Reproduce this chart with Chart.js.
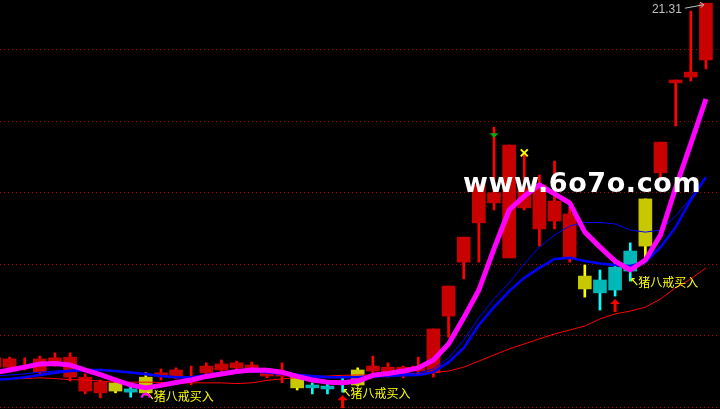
<!DOCTYPE html>
<html>
<head>
<meta charset="utf-8">
<script src="https://cdn.jsdelivr.net/npm/chart.js@4.4.0/dist/chart.umd.min.js"></script>
<style>
    html, body { margin: 0; padding: 0; background: #000; overflow: hidden; }
    #kline { display: block; background: #000; }
</style>
</head>
<body>
<canvas id="kline" width="720" height="409"></canvas>
<script>
// candles, oldest first
var open  = [11.12,11.12,11.10,10.98,11.21,10.84,10.45,10.40,10.45,10.42,10.40,10.87,10.82,10.73,10.96,11.04,11.10,11.10,10.87,10.87,10.54,10.54,10.51,10.65,10.62,11.01,10.90,10.96,11.01,10.96,12.55,14.06,15.16,15.72,14.18,15.58,14.99,15.21,14.15,13.31,13.20,13.28,13.81,14.51,16.56,19.08,19.24,19.72];
var close = [11.38,11.35,11.15,11.35,11.38,11.40,10.84,10.70,10.68,10.51,10.84,10.96,11.04,10.79,11.15,11.21,11.24,11.18,11.01,10.98,10.84,10.62,10.59,10.73,11.04,11.15,11.12,11.12,11.15,12.19,13.39,14.76,16.22,16.00,17.34,16.14,16.22,15.77,15.41,13.67,13.56,13.92,14.37,15.83,17.42,19.16,19.38,21.31];
var high  = [11.43,11.40,11.38,11.43,11.52,11.52,10.93,10.76,10.70,10.59,10.96,11.07,11.10,11.15,11.24,11.32,11.29,11.26,11.07,11.24,10.87,10.68,10.68,10.84,11.10,11.43,11.24,11.15,11.40,12.19,13.39,14.76,16.22,17.84,17.34,17.12,16.50,16.89,15.60,13.98,13.84,14.06,14.60,15.83,17.42,19.16,21.09,21.31];
var low   = [11.07,11.07,11.04,10.93,11.15,10.73,10.37,10.26,10.40,10.28,10.34,10.76,10.79,10.62,10.90,10.98,11.04,10.98,10.82,10.68,10.48,10.37,10.37,10.42,10.59,10.90,10.84,10.82,10.96,10.84,11.96,13.59,14.06,15.52,14.18,15.52,14.51,14.99,14.06,13.08,12.72,13.11,13.53,14.20,16.36,17.87,19.13,19.47];
// indicator colour of each candle: r red, y yellow, c cyan
var kind = ('rrrrrrrr' + 'y' + 'c' + 'y' + 'rrrrrrrrr' + 'y' + 'ccc' + 'y' + 'rrrrrrrrrrrrrr' + 'y' + 'ccc' + 'y' + 'rrrr').split('');

// moving averages
var ma5  = [10.96,11.04,11.12,11.21,11.22,11.18,11.04,10.91,10.76,10.62,10.54,10.61,10.69,10.76,10.86,10.93,11.00,11.04,11.03,10.98,10.86,10.76,10.70,10.68,10.73,10.89,10.94,11.01,11.10,11.32,11.77,12.50,13.28,14.43,15.52,15.91,16.22,15.97,15.72,14.90,14.48,14.09,13.84,14.12,14.82,16.14,17.37,18.63];
var ma10 = [10.87,10.90,10.93,10.98,11.01,11.04,11.05,11.04,11.00,10.96,10.90,10.86,10.83,10.84,10.89,10.94,10.98,11.01,11.00,10.97,10.93,10.89,10.86,10.84,10.86,10.87,10.90,10.93,10.96,11.07,11.38,11.88,12.50,13.03,13.48,14.01,14.48,14.82,15.07,15.17,15.17,15.13,14.96,14.90,14.96,15.35,15.86,16.42];
var ma20 = [10.76,10.79,10.84,10.90,10.96,11.01,11.04,11.04,11.01,10.97,10.93,10.87,10.84,10.84,10.90,10.96,11.00,11.01,10.97,10.93,10.89,10.86,10.84,10.84,10.84,10.86,10.87,10.89,10.90,10.98,11.26,11.66,12.30,12.80,13.25,13.62,13.90,14.15,14.18,14.09,14.02,13.98,13.95,14.06,14.48,15.04,15.80,16.44];
var ma60 = [10.76,10.79,10.80,10.82,10.80,10.77,10.76,10.73,10.70,10.70,10.70,10.69,10.68,10.68,10.68,10.68,10.66,10.68,10.75,10.79,10.83,10.84,10.87,10.89,10.90,10.90,10.91,10.93,10.94,10.97,11.01,11.12,11.29,11.46,11.63,11.77,11.91,12.05,12.16,12.27,12.47,12.61,12.69,12.80,13.03,13.34,13.59,13.90];

// price grid lines
var gridTicks = [10, 12, 14, 16, 18, 20];

// signal marks (candle index)
var buyText = [10, 23, 42];
var upArrow = [23, 41];
var capMark = [10];
var greenMark = [33];
var crossMark = [35];

var bodyColor = { r: '#c80000', y: '#c8c800', c: '#00b8b8' };
var wickColor = { r: '#ff0000', y: '#ffff00', c: '#00ffff' };

function points(arr) {
    return arr.map(function (v, i) { return { x: i, y: v }; });
}

var bodies = open.map(function (o, i) { return { x: i, y: [Math.min(o, close[i]), Math.max(o, close[i])] }; });
var wicks = low.map(function (l, i) { return { x: i, y: [l, high[i]] }; });

// little marks and texts drawn on top
var marks = {
    id: 'marks',
    afterDatasetsDraw: function (chart) {
        var ctx = chart.ctx;
        var xs = chart.scales.x;
        var ys = chart.scales.y;
        ctx.save();

        // buy texts
        buyText.forEach(function (i) {
            var x = xs.getPixelForValue(i);
            var y = ys.getPixelForValue(low[i]) + 1;
            ctx.strokeStyle = '#ffff00';
            ctx.lineWidth = 1.2;
            ctx.beginPath();
            ctx.moveTo(x + 7, y + 3);
            ctx.lineTo(x + 1.5, y - 3.5);
            ctx.moveTo(x + 1.5, y - 3.5);
            ctx.lineTo(x + 1.5, y - 0.5);
            ctx.moveTo(x + 1.5, y - 3.5);
            ctx.lineTo(x + 4.5, y - 3.5);
            ctx.stroke();
            ctx.fillStyle = '#ffff00';
            ctx.font = '12px "Noto Sans CJK SC"';
            ctx.textBaseline = 'middle';
            ctx.textAlign = 'left';
            ctx.fillText('猪八戒买入', x + 8, y);
        });

        // red up arrows under the low
        upArrow.forEach(function (i) {
            var x = xs.getPixelForValue(i);
            var y = ys.getPixelForValue(low[i]) + 3;
            ctx.fillStyle = '#ff0000';
            ctx.beginPath();
            ctx.moveTo(x, y);
            ctx.lineTo(x + 5, y + 5);
            ctx.lineTo(x - 5, y + 5);
            ctx.closePath();
            ctx.fill();
            ctx.fillRect(x - 1.5, y + 4, 3, 9);
        });

        // magenta cap
        capMark.forEach(function (i) {
            var x = xs.getPixelForValue(i);
            var y = ys.getPixelForValue(ma5[i]);
            ctx.strokeStyle = '#ff00ff';
            ctx.lineWidth = 2.5;
            ctx.beginPath();
            ctx.arc(x, y + 10, 4, Math.PI, 0);
            ctx.stroke();
        });

        // green triangle on the wick
        greenMark.forEach(function (i) {
            var x = xs.getPixelForValue(i);
            var y = ys.getPixelForValue(high[i]) + 6;
            ctx.fillStyle = '#00b000';
            ctx.beginPath();
            ctx.moveTo(x - 4.5, y);
            ctx.lineTo(x + 4.5, y);
            ctx.lineTo(x, y + 4.5);
            ctx.closePath();
            ctx.fill();
        });

        // yellow cross at the high
        crossMark.forEach(function (i) {
            var x = xs.getPixelForValue(i);
            var y = ys.getPixelForValue(high[i]);
            ctx.strokeStyle = '#ffff00';
            ctx.lineWidth = 2;
            ctx.beginPath();
            ctx.moveTo(x - 3.5, y - 3.5);
            ctx.lineTo(x + 3.5, y + 3.5);
            ctx.moveTo(x + 3.5, y - 3.5);
            ctx.lineTo(x - 3.5, y + 3.5);
            ctx.stroke();
        });

        // highest price label
        var top = 0;
        high.forEach(function (h, i) { if (h > high[top]) top = i; });
        var hx = xs.getPixelForValue(top);
        var hy = ys.getPixelForValue(high[top]);
        ctx.fillStyle = '#c0c0c0';
        ctx.strokeStyle = '#c0c0c0';
        ctx.lineWidth = 1;
        ctx.font = '12px "Liberation Sans"';
        ctx.textAlign = 'right';
        ctx.textBaseline = 'alphabetic';
        ctx.fillText(high[top].toFixed(2), hx - 24, hy + 10);
        ctx.beginPath();
        ctx.moveTo(hx - 21, hy + 5);
        ctx.lineTo(hx - 2, hy + 1.5);
        ctx.moveTo(hx - 2, hy + 1.5);
        ctx.lineTo(hx - 6, hy - 1);
        ctx.moveTo(hx - 2, hy + 1.5);
        ctx.lineTo(hx - 5, hy + 4.5);
        ctx.stroke();

        // watermark
        var area = chart.chartArea;
        ctx.fillStyle = '#ffffff';
        ctx.font = 'bold 27px "DejaVu Sans"';
        ctx.letterSpacing = '0.6px';
        ctx.textAlign = 'left';
        ctx.fillText('www.6o7o.com', area.left + 463, area.top + 192);

        ctx.restore();
    }
};

new Chart(document.getElementById('kline'), {
    type: 'bar',
    data: {
        datasets: [
            { type: 'line', label: 'MA5', data: points(ma5), borderColor: '#ff00ff', borderWidth: 5, pointRadius: 0, borderJoinStyle: 'round', order: 1 },
            { type: 'line', label: 'MA10', data: points(ma10), borderColor: '#0000ff', borderWidth: 1, pointRadius: 0, order: 2 },
            { type: 'line', label: 'MA20', data: points(ma20), borderColor: '#0000ff', borderWidth: 2.5, pointRadius: 0, order: 3 },
            { type: 'line', label: 'MA60', data: points(ma60), borderColor: '#ff0000', borderWidth: 1, pointRadius: 0, order: 4 },
            {
                label: 'body', data: bodies, barThickness: 13, grouped: false, order: 5,
                backgroundColor: kind.map(function (k) { return bodyColor[k]; })
            },
            {
                label: 'wick', data: wicks, barThickness: 2, grouped: false, order: 6,
                backgroundColor: kind.map(function (k) { return wickColor[k]; })
            }
        ]
    },
    options: {
        responsive: false,
        animation: false,
        devicePixelRatio: 1,
        layout: { padding: 0 },
        plugins: { legend: { display: false }, tooltip: { enabled: false } },
        scales: {
            x: { type: 'linear', min: 0.37, max: 47.93, offset: false, display: false },
            y: {
                min: 9.948,
                max: 21.4,
                afterBuildTicks: function (axis) {
                    axis.ticks = gridTicks.map(function (v) { return { value: v }; });
                },
                ticks: { display: false },
                grid: { color: '#b00000', drawTicks: false },
                border: { display: false, dash: [1, 3] }
            }
        }
    },
    plugins: [marks]
});
</script>
</body>
</html>
